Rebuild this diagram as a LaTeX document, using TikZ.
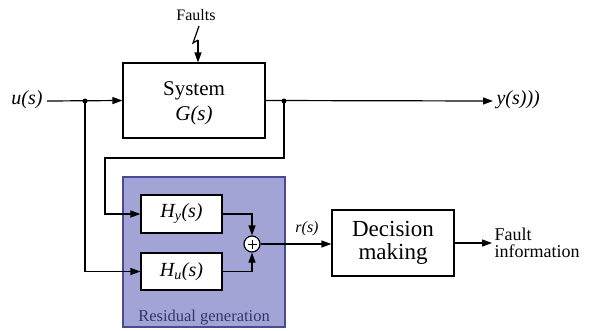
\documentclass[tikz,border=0pt]{standalone}
\usepackage{fontspec}
\setmainfont{Liberation Serif}
\usetikzlibrary{arrows.meta,calc}
\definecolor{resfill}{RGB}{161,164,212}
\definecolor{resdraw}{RGB}{72,76,150}
\begin{document}
\begin{tikzpicture}[x=1pt,y=-1pt,
  blk/.style={draw,line width=1.2pt,fill=white,inner sep=0pt},
  wire/.style={line width=1.2pt},
  arr/.style={line width=1.2pt,-{Triangle[length=10pt,width=7pt]}},
  dotn/.style={circle,fill=black,inner sep=0pt,minimum size=5pt}]
\useasboundingbox (0,0) rectangle (593,330);
% residual generation area
\node[fill=resfill,draw=resdraw,line width=1.2pt,minimum width=162pt,minimum height=150pt,inner sep=0pt] (res) at (204,252) {};
\node[font=\fontsize{16.5}{16.5}\selectfont,text=resdraw!70!black] (reslab) at (204,318) {Residual generation};
% system
\node[blk,minimum width=142pt,minimum height=75pt] (sys) at (194,100.5) {};
\node[font=\fontsize{21}{21}\selectfont] (systxt) at (194,91) {System};
\node[font=\fontsize{21}{21}\selectfont\itshape] (gtxt) at (194,115) {G(s)};
% faults
\node[font=\fontsize{16}{16}\selectfont] (faults) at (196,15) {Faults};
\coordinate (f1) at (199,26);
\coordinate (f2) at (193,43);
\coordinate (f3) at (198,40);
\draw[wire] (f1) -- (f2) -- (f3);
\draw[arr] (f3) -- (sys.north -| f3) ;
% input
\node[font=\fontsize{20}{20}\selectfont\itshape] (u) at (27,100) {u(s)};
\coordinate (du) at (85,101);
\draw[arr] (47,101) -- (sys.west);
\node[dotn] (dun) at (du) {};
% output
\coordinate (dy) at (284,101);
\node[font=\fontsize{20}{20}\selectfont\itshape,anchor=west] (y) at (493,100) {y(s)))};
\draw[arr] (sys.east) -- (y.west |- dy);
\node[dotn] (dyn) at (dy) {};
% H blocks
\node[blk,minimum width=81pt,minimum height=38pt] (hy) at (181.5,214) {};
\node[font=\fontsize{20}{20}\selectfont\itshape] at (hy) {H\textsubscript{y}(s)};
\node[blk,minimum width=81pt,minimum height=37pt] (hu) at (181.5,271.5) {};
\node[font=\fontsize{20}{20}\selectfont\itshape] at (hu) {H\textsubscript{u}(s)};
% sum
\node[circle,draw,fill=white,line width=1.2pt,minimum size=16pt,inner sep=0pt] (sum) at (252,244) {};
\draw[line width=1pt] (sum.center) ++(-4.5,0) -- ++(9,0) (sum.center) ++(0,-4.5) -- ++(0,9);
% feedback wires
\coordinate (fb1) at (284,158);
\coordinate (fb2) at (105,158);
\draw[arr] (dyn.center) -- (fb1) -- (fb2) -- (fb2 |- hy.west) -- (hy.west);
\draw[arr] (dun.center) -- (dun.center |- hu.west) -- (hu.west);
\draw[arr] (hy.east) -| (sum.north);
\draw[arr] (hu.east) -| (sum.south);
% decision
\node[blk,minimum width=122pt,minimum height=66pt] (dec) at (393,243) {};
\node[font=\fontsize{23}{23}\selectfont,align=center] (dectxt) at (393,243) {Decision\\making};
\draw[arr] (sum.east) -- (sum.east -| dec.west);
\node[font=\fontsize{16}{16}\selectfont\itshape] (rlab) at (307,229) {r(s)};
\coordinate (fo) at (492,243);
\draw[arr] (dec.east |- fo) -- (fo);
\node[anchor=west,font=\fontsize{18}{17}\selectfont,align=left] (finfo) at (491,243) {Fault\\information};
\end{tikzpicture}
\end{document}
